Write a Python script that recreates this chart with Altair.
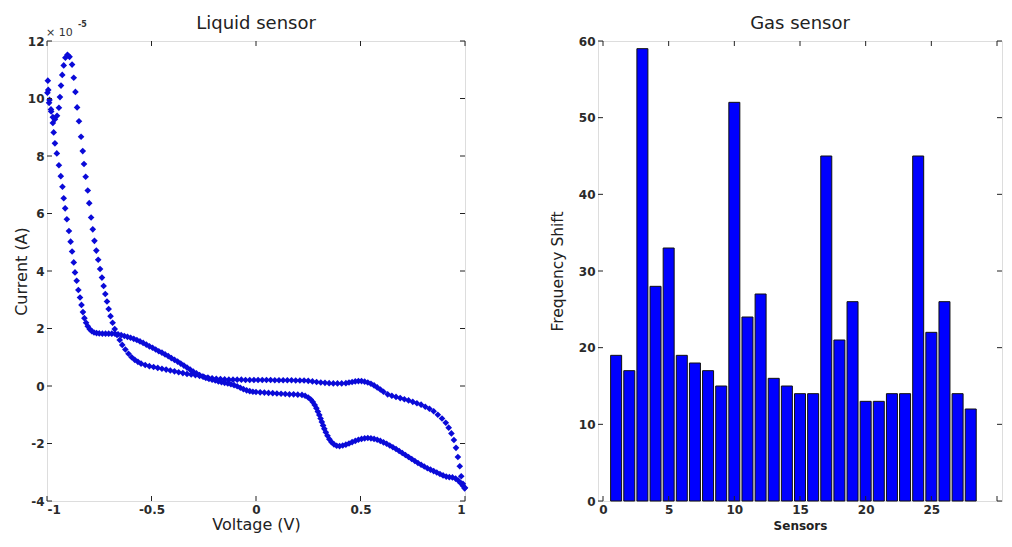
import altair as alt
import pandas as pd

# ---------------- data ----------------
# Liquid sensor: cyclic voltammogram, sweep from +1 V down to -1 V
fwd_voltage = [1.0, 0.99, 0.982, 0.975, 0.966, 0.957, 0.947, 0.935, 0.922, 0.908, 0.89, 0.87, 0.85, 0.83, 0.81,
               0.79, 0.77, 0.75, 0.73, 0.71, 0.69, 0.67, 0.65, 0.63, 0.61, 0.595, 0.58, 0.565, 0.55, 0.535,
               0.52, 0.505, 0.49, 0.475, 0.46, 0.445, 0.43, 0.41, 0.39, 0.37, 0.35, 0.33, 0.31, 0.29, 0.27,
               0.25, 0.23, 0.21, 0.19, 0.17, 0.15, 0.13, 0.11, 0.09, 0.07, 0.05, 0.03, 0.01, -0.01, -0.03,
               -0.05, -0.07, -0.09, -0.11, -0.13, -0.15, -0.17, -0.19, -0.21, -0.23, -0.25, -0.27, -0.29,
               -0.31, -0.33, -0.35, -0.37, -0.39, -0.41, -0.43, -0.45, -0.47, -0.49, -0.51, -0.53, -0.55,
               -0.565, -0.58, -0.595, -0.61, -0.625, -0.64, -0.652, -0.665, -0.676, -0.686, -0.696, -0.705,
               -0.713, -0.721, -0.729, -0.737, -0.746, -0.755, -0.764, -0.773, -0.781, -0.789, -0.798,
               -0.805, -0.815, -0.823, -0.829, -0.837, -0.847, -0.856, -0.864, -0.872, -0.88, -0.892,
               -0.902, -0.912, -0.92, -0.927, -0.933, -0.938, -0.943, -0.952, -0.962, -0.972, -0.981,
               -0.988, -0.994, -0.996]
fwd_current = [-3.54, -3.40, -3.14, -2.79, -2.47, -2.15, -1.88, -1.65, -1.45, -1.28, -1.13, -1.0, -0.88, -0.79,
               -0.72, -0.65, -0.60, -0.55, -0.50, -0.46, -0.42, -0.38, -0.34, -0.29, -0.20, -0.12, -0.05,
               0.02, 0.08, 0.12, 0.15, 0.17, 0.17, 0.16, 0.14, 0.12, 0.10, 0.09, 0.09, 0.09, 0.10, 0.11, 0.12,
               0.14, 0.16, 0.18, 0.19, 0.19, 0.19, 0.20, 0.20, 0.20, 0.20, 0.20, 0.21, 0.21, 0.21, 0.21, 0.21,
               0.21, 0.21, 0.22, 0.22, 0.22, 0.22, 0.23, 0.24, 0.25, 0.27, 0.29, 0.32, 0.35, 0.38, 0.40, 0.42,
               0.45, 0.48, 0.51, 0.54, 0.57, 0.60, 0.63, 0.66, 0.69, 0.73, 0.78, 0.84, 0.91, 1.00, 1.12, 1.27,
               1.43, 1.60, 1.78, 1.98, 2.20, 2.43, 2.68, 2.94, 3.20, 3.48, 3.77, 4.07, 4.39, 4.71, 5.05, 5.45,
               5.86, 6.36, 6.80, 7.28, 7.72, 8.17, 8.67, 9.21, 9.69, 10.23, 10.72, 11.18, 11.45, 11.52, 11.42,
               11.15, 10.82, 10.45, 10.05, 9.68, 9.40, 9.28, 9.35, 9.62, 9.95, 10.3, 10.62]

# return sweep from -1 V back up to +1 V
rev_voltage = [-0.998, -0.99, -0.98, -0.972, -0.968, -0.962, -0.953, -0.943, -0.934, -0.926, -0.92, -0.913,
               -0.905, -0.895, -0.887, -0.88, -0.872, -0.866, -0.858, -0.85, -0.842, -0.835, -0.828, -0.821,
               -0.813, -0.805, -0.796, -0.786, -0.775, -0.763, -0.75, -0.735, -0.72, -0.705, -0.69, -0.675,
               -0.66, -0.645, -0.63, -0.615, -0.6, -0.585, -0.57, -0.555, -0.54, -0.525, -0.51, -0.495, -0.48,
               -0.465, -0.45, -0.435, -0.42, -0.405, -0.39, -0.375, -0.36, -0.345, -0.33, -0.315, -0.3, -0.285,
               -0.27, -0.255, -0.24, -0.225, -0.21, -0.195, -0.18, -0.165, -0.15, -0.135, -0.12, -0.105, -0.09,
               -0.075, -0.06, -0.045, -0.03, -0.015, 0.0, 0.02, 0.04, 0.06, 0.08, 0.1, 0.12, 0.14, 0.16, 0.18,
               0.2, 0.22, 0.235, 0.25, 0.262, 0.272, 0.281, 0.289, 0.296, 0.303, 0.309, 0.315, 0.321, 0.327,
               0.334, 0.342, 0.351, 0.361, 0.373, 0.386, 0.4, 0.415, 0.43, 0.445, 0.46, 0.475, 0.49, 0.505,
               0.52, 0.535, 0.55, 0.565, 0.58, 0.595, 0.61, 0.625, 0.64, 0.655, 0.67, 0.685, 0.7, 0.715, 0.73,
               0.745, 0.76, 0.775, 0.79, 0.805, 0.82, 0.835, 0.85, 0.865, 0.88, 0.895, 0.91, 0.925, 0.94,
               0.955, 0.968, 0.98, 0.99, 0.998]
rev_current = [10.2, 9.85, 9.55, 9.15, 8.82, 8.44, 8.09, 7.68, 7.30, 6.93, 6.53, 6.18, 5.80, 5.39, 5.02, 4.68,
               4.30, 3.95, 3.66, 3.34, 3.08, 2.82, 2.57, 2.36, 2.20, 2.08, 1.98, 1.91, 1.86, 1.84, 1.83, 1.82,
               1.82, 1.82, 1.82, 1.82, 1.80, 1.77, 1.74, 1.71, 1.68, 1.64, 1.60, 1.55, 1.50, 1.44, 1.38, 1.33,
               1.27, 1.21, 1.16, 1.10, 1.04, 0.97, 0.91, 0.85, 0.78, 0.71, 0.64, 0.57, 0.50, 0.44, 0.38, 0.33,
               0.28, 0.25, 0.22, 0.19, 0.16, 0.13, 0.11, 0.09, 0.06, 0.03, -0.01, -0.06, -0.11, -0.15, -0.18,
               -0.20, -0.21, -0.22, -0.23, -0.24, -0.25, -0.26, -0.27, -0.28, -0.29, -0.29, -0.30, -0.31,
               -0.34, -0.40, -0.47, -0.56, -0.66, -0.77, -0.89, -1.01, -1.13, -1.25, -1.37, -1.49, -1.61,
               -1.73, -1.85, -1.95, -2.03, -2.08, -2.09, -2.07, -2.04, -2.00, -1.95, -1.91, -1.87, -1.84,
               -1.82, -1.81, -1.82, -1.84, -1.87, -1.91, -1.96, -2.01, -2.07, -2.13, -2.19, -2.26, -2.33,
               -2.40, -2.47, -2.54, -2.61, -2.68, -2.74, -2.80, -2.86, -2.91, -2.96, -3.01, -3.06, -3.11,
               -3.15, -3.17, -3.18, -3.22, -3.29, -3.38, -3.47, -3.56]

cv_x_ticks = [-1, -0.5, 0, 0.5, 1]
cv_y_ticks = [-4, -2, 0, 2, 4, 6, 8, 10, 12]

# Gas sensor: frequency shift per sensor
sensors = [1, 2, 3, 4, 5, 6, 7, 8, 9, 10, 11, 12, 13, 14, 15, 16, 17, 18, 19, 20, 21, 22, 23, 24, 25, 26, 27, 28]
freq_shift = [19, 17, 59, 28, 33, 19, 18, 17, 15, 52, 24, 27, 16, 15, 14, 14, 45, 21, 26, 13, 13, 14, 14, 45,
              22, 26, 14, 12]
gas_x_ticks = [0, 5, 10, 15, 20, 25, 30]
gas_y_ticks = [0, 10, 20, 30, 40, 50, 60]

titles = ["Liquid sensor", "Gas sensor"]

# ---------------- chart ----------------
FONT = "DejaVu Sans"
W1, W2, H = 418, 404, 460
BLUE = "#0a0ad8"
INK = "#222222"
TICK = 5

cv = pd.DataFrame({"voltage": fwd_voltage + rev_voltage, "current": fwd_current + rev_current})
gas = pd.DataFrame({"sensor": sensors, "shift": freq_shift})

label_style = dict(ticks=False, domain=False, grid=False, labelFont=FONT, labelFontSize=12,
                   labelFontWeight="bold", labelColor="#2a2a2a", labelPadding=3,
                   titleFont=FONT, titleColor=INK)


def inward_ticks(xvals, yvals, xscale, yscale, w, h):
    xdf = pd.DataFrame({"xv": xvals})
    ydf = pd.DataFrame({"yv": yvals})
    xa = alt.X("xv:Q", scale=xscale, axis=None)
    ya = alt.Y("yv:Q", scale=yscale, axis=None)
    rule = dict(color=INK, strokeWidth=1)
    return [
        alt.Chart(xdf).mark_rule(**rule).encode(x=xa, y=alt.value(0), y2=alt.value(TICK)),
        alt.Chart(xdf).mark_rule(**rule).encode(x=xa, y=alt.value(h - TICK), y2=alt.value(h)),
        alt.Chart(ydf).mark_rule(**rule).encode(y=ya, x=alt.value(0), x2=alt.value(TICK)),
        alt.Chart(ydf).mark_rule(**rule).encode(y=ya, x=alt.value(w - TICK), x2=alt.value(w)),
    ]


def title_mark(text, w):
    return alt.Chart(pd.DataFrame({"t": [text]})).mark_text(
        font=FONT, fontSize=18, color=INK, align="center", baseline="alphabetic").encode(
        text="t:N", x=alt.value(w / 2), y=alt.value(-12))


xs_cv = alt.Scale(domain=[cv_x_ticks[0], cv_x_ticks[-1]], nice=False, zero=False)
ys_cv = alt.Scale(domain=[cv_y_ticks[0], cv_y_ticks[-1]], nice=False, zero=False)

pts = alt.Chart(cv).mark_point(shape="diamond", filled=True, size=44, color=BLUE, opacity=1).encode(
    x=alt.X("voltage:Q", scale=xs_cv,
            axis=alt.Axis(orient="bottom", values=cv_x_ticks, labelExpr="datum.value + ''",
                          title="Voltage (V)", titleFontSize=16, titleFontWeight="normal",
                          titlePadding=1, **label_style)),
    y=alt.Y("current:Q", scale=ys_cv,
            axis=alt.Axis(orient="left", values=cv_y_ticks, labelExpr="datum.value + ''",
                          title="Current (A)", titleFontSize=16, titleFontWeight="normal",
                          titleX=-18, titleY=H / 2, titleAngle=270, titleBaseline="bottom",
                          titleAlign="center", **label_style)),
)
exp_df = pd.DataFrame({"t": ["× 10"], "p": ["-5"]})
exp_base = alt.Chart(exp_df).mark_text(align="left", baseline="alphabetic", font=FONT, fontSize=11,
                                       color="#333333").encode(text="t:N", x=alt.value(-1), y=alt.value(-5))
exp_pow = alt.Chart(exp_df).mark_text(align="left", baseline="alphabetic", font=FONT, fontSize=8,
                                      fontWeight="bold", color="#333333").encode(
    text="p:N", x=alt.value(31), y=alt.value(-14))

left = alt.layer(
    pts, *inward_ticks(cv_x_ticks, cv_y_ticks, xs_cv, ys_cv, W1, H), exp_base, exp_pow, title_mark(titles[0], W1)
).resolve_axis(x="independent", y="independent").properties(width=W1, height=H)

xs_g = alt.Scale(domain=[gas_x_ticks[0], gas_x_ticks[-1]], nice=False, zero=False)
ys_g = alt.Scale(domain=[gas_y_ticks[0], gas_y_ticks[-1]], nice=False)

bars = alt.Chart(gas).mark_bar(orient="vertical", width=11, color="#0000ff", stroke="#111111",
                               strokeWidth=1).encode(
    x=alt.X("sensor:Q", scale=xs_g,
            axis=alt.Axis(orient="bottom", values=gas_x_ticks,
                          labelExpr="datum.value == 30 ? '' : datum.value + ''",
                          title="Sensors", titleFontSize=12, titleFontWeight="bold", titlePadding=5,
                          **label_style)),
    y=alt.Y("shift:Q", scale=ys_g,
            axis=alt.Axis(orient="left", values=gas_y_ticks, labelExpr="datum.value + ''",
                          title="Frequency Shift", titleFontSize=15.5, titleFontWeight="normal",
                          titleX=-33, titleY=H / 2, titleAngle=270, titleBaseline="bottom",
                          titleAlign="center", **label_style)),
)

right = alt.layer(
    bars, *inward_ticks(gas_x_ticks, gas_y_ticks, xs_g, ys_g, W2, H), title_mark(titles[1], W2)
).resolve_axis(x="independent", y="independent").properties(width=W2, height=H)

chart = alt.HConcatChart(hconcat=[left, right], spacing=133, bounds="flush").properties(
    padding={"left": 4, "top": 6, "right": 0, "bottom": 0}
).configure_view(stroke=INK, strokeWidth=1).configure(background="white")

chart.save("out.html", embed_options={"renderer": "svg", "actions": False})
